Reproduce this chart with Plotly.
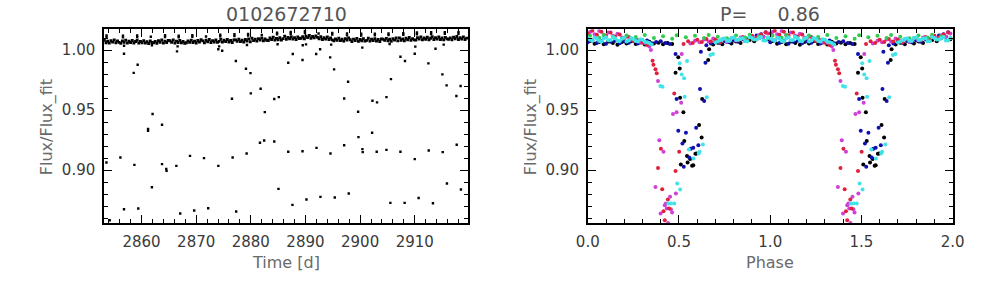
import plotly.graph_objects as go

# ---------------- Left panel: light curve ----------------
# out-of-eclipse band, sampled every band_step days from band_start
band_start = 2853.2
band_step = 0.3
band_flux = [
    1.0081, 1.0061, 1.0073, 1.0057, 1.0078, 1.0066, 1.0084, 1.0060, 1.0075, 1.0064,
    1.0055, 1.0076, 1.0064, 1.0082, 1.0058, 1.0073, 1.0062, 1.0079, 1.0059, 1.0071,
    1.0081, 1.0057, 1.0072, 1.0061, 1.0078, 1.0058, 1.0070, 1.0054, 1.0075, 1.0063,
    1.0060, 1.0072, 1.0056, 1.0077, 1.0065, 1.0083, 1.0059, 1.0074, 1.0063, 1.0080,
    1.0077, 1.0065, 1.0083, 1.0059, 1.0074, 1.0063, 1.0080, 1.0060, 1.0072, 1.0056,
    1.0061, 1.0076, 1.0065, 1.0082, 1.0062, 1.0074, 1.0058, 1.0079, 1.0067, 1.0085,
    1.0076, 1.0060, 1.0081, 1.0069, 1.0087, 1.0063, 1.0078, 1.0067, 1.0084, 1.0064,
    1.0072, 1.0090, 1.0066, 1.0081, 1.0070, 1.0087, 1.0067, 1.0079, 1.0063, 1.0084,
    1.0084, 1.0073, 1.0090, 1.0070, 1.0082, 1.0066, 1.0087, 1.0075, 1.0093, 1.0069,
    1.0098, 1.0078, 1.0090, 1.0074, 1.0095, 1.0083, 1.0101, 1.0077, 1.0092, 1.0081,
    1.0079, 1.0100, 1.0088, 1.0106, 1.0082, 1.0097, 1.0086, 1.0103, 1.0083, 1.0095,
    1.0114, 1.0090, 1.0105, 1.0094, 1.0111, 1.0091, 1.0103, 1.0087, 1.0108, 1.0096,
    1.0098, 1.0110, 1.0094, 1.0115, 1.0103, 1.0121, 1.0097, 1.0112, 1.0101, 1.0118,
    1.0105, 1.0093, 1.0111, 1.0087, 1.0102, 1.0091, 1.0108, 1.0088, 1.0100, 1.0084,
    1.0077, 1.0092, 1.0081, 1.0098, 1.0078, 1.0090, 1.0074, 1.0095, 1.0083, 1.0101,
    1.0086, 1.0070, 1.0091, 1.0079, 1.0097, 1.0073, 1.0088, 1.0077, 1.0094, 1.0074,
    1.0080, 1.0098, 1.0074, 1.0089, 1.0078, 1.0095, 1.0075, 1.0087, 1.0071, 1.0092,
    1.0091, 1.0080, 1.0097, 1.0077, 1.0089, 1.0073, 1.0094, 1.0082, 1.0100, 1.0076,
    1.0101, 1.0081, 1.0093, 1.0077, 1.0098, 1.0086, 1.0104, 1.0080, 1.0095, 1.0084,
    1.0082, 1.0103, 1.0091, 1.0109, 1.0085, 1.0100, 1.0089, 1.0106, 1.0086, 1.0098,
    1.0111, 1.0087, 1.0102, 1.0091, 1.0108, 1.0088, 1.0100, 1.0084, 1.0105, 1.0093,
    1.0089, 1.0101, 1.0085, 1.0106, 1.0094, 1.0112, 1.0088, 1.0103, 1.0092, 1.0109,
    1.0087, 1.0099,
]

spike_time = [2853.6, 2853.6, 2856.6, 2856.6, 2859.2, 2859.2, 2861.7, 2864.3, 2864.3,
              2866.8, 2866.8, 2869.3, 2869.3, 2871.8, 2874.4, 2874.4, 2877.0, 2877.0,
              2879.5, 2879.5, 2882.0, 2884.8, 2884.8, 2887.3, 2887.3, 2889.9, 2889.9,
              2892.4, 2894.9, 2894.9, 2897.6, 2897.6, 2900.2, 2900.2, 2902.7, 2902.7,
              2905.2, 2905.2, 2907.9, 2907.9, 2910.4, 2910.4, 2913.0, 2913.0, 2915.5,
              2915.5, 2918.0, 2918.0]
spike_flux = [1.0108, 1.0122, 1.0105, 1.0120, 1.0107, 1.0121, 1.0110, 1.0108, 1.0123,
              1.0106, 1.0119, 1.0110, 1.0124, 1.0113, 1.0114, 1.0128, 1.0116, 1.0131,
              1.0120, 1.0134, 1.0126, 1.0130, 1.0144, 1.0136, 1.0150, 1.0142, 1.0158,
              1.0138, 1.0128, 1.0142, 1.0122, 1.0137, 1.0120, 1.0135, 1.0122, 1.0136,
              1.0124, 1.0138, 1.0127, 1.0141, 1.0131, 1.0146, 1.0133, 1.0148, 1.0134,
              1.0149, 1.0135, 1.0150]

ecl_time = [2853.57, 2854.17, 2856.13, 2856.79, 2856.79, 2858.57, 2858.69, 2859.29, 2859.40,
            2861.19, 2861.19, 2861.90, 2862.02, 2863.75, 2863.75, 2864.52, 2864.58, 2866.37,
            2866.49, 2867.08, 2868.87, 2869.64, 2871.43, 2872.20, 2874.05, 2874.05, 2874.76,
            2876.55, 2876.67, 2877.26, 2877.32, 2879.11, 2879.23, 2879.94, 2880.00, 2881.79,
            2881.67, 2882.44, 2882.56, 2884.29, 2884.29, 2885.12, 2885.06, 2886.85, 2886.85,
            2887.62, 2887.68, 2889.46, 2889.46, 2890.18, 2891.96, 2892.02, 2892.74, 2892.68,
            2894.52, 2894.58, 2895.24, 2895.36, 2897.08, 2897.08, 2897.80, 2897.92, 2899.64,
            2899.70, 2900.42, 2900.48, 2902.20, 2902.26, 2903.10, 2903.04, 2904.82, 2904.82,
            2905.54, 2905.65, 2907.38, 2907.38, 2908.15, 2908.21, 2910.00, 2910.00, 2910.71,
            2912.50, 2912.56, 2913.33, 2915.06, 2915.12, 2915.83, 2915.89, 2917.62, 2917.68,
            2918.39, 2918.45,
            2856.8, 2861.9, 2866.6, 2874.2, 2879.3, 2884.9, 2889.5, 2890.1, 2894.7, 2900.4,
            2905.4, 2910.1, 2913.8, 2915.3]
ecl_flux = [0.9064, 0.8583, 0.9106, 0.8675, 0.9969, 0.9810, 0.9044, 0.9878, 0.8681,
            0.9344, 0.9328, 0.8858, 0.9467, 0.9378, 0.9050, 0.9011, 0.8994, 0.9036,
            0.9989, 0.8639, 0.9119, 0.8664, 0.9100, 0.8683, 0.9036, 1.0006, 0.9994,
            0.9594, 0.9106, 0.9908, 0.8656, 0.9844, 0.9139, 0.9808, 0.9639, 0.9678,
            0.9228, 0.9247, 0.9483, 0.9592, 0.9239, 0.9608, 0.8844, 0.9894, 0.9153,
            0.8711, 0.9967, 0.9917, 0.9158, 0.8756, 0.9967, 0.9186, 0.8778, 1.0006,
            0.9939, 0.9139, 0.9839, 0.8772, 0.9597, 0.9208, 0.9736, 0.8806, 0.9486,
            0.9275, 0.9175, 0.9150, 0.9311, 0.9578, 0.9564, 0.9153, 0.9608, 0.9169,
            0.8728, 0.9758, 0.9944, 0.9153, 0.8728, 0.9908, 0.9969, 0.9092, 0.8769,
            0.9889, 0.9164, 0.8725, 0.9797, 0.9150, 0.9706, 0.8889, 0.9617, 0.9211,
            0.9700, 0.8839,
            1.0035, 1.0040, 1.0030, 1.0030, 1.0042, 1.0048, 1.0040, 1.0047, 1.0045, 1.0020,
            1.0050, 1.0028, 1.0010, 1.0045]

# ---------------- Right panel: phase-folded ----------------
period_label = "0.86"
phase_a = [0.0125, 0.0375, 0.0625, 0.0875, 0.1125, 0.1375, 0.1625, 0.1875, 0.2125, 0.2375,
           0.2625, 0.2875, 0.3125, 0.3375, 0.3625, 0.3875, 0.4125, 0.4375, 0.4625, 0.4875,
           0.5125, 0.5375, 0.5625, 0.5875, 0.6125, 0.6375, 0.6625, 0.6875, 0.7125, 0.7375,
           0.7625, 0.7875, 0.8125, 0.8375, 0.8625, 0.8875, 0.9125, 0.9375, 0.9625, 0.9875]
phase_b = [0.000, 0.025, 0.050, 0.075, 0.100, 0.125, 0.150, 0.175, 0.200, 0.225,
           0.250, 0.275, 0.300, 0.325, 0.350, 0.375, 0.400, 0.425, 0.450, 0.475,
           0.500, 0.525, 0.550, 0.575, 0.600, 0.625, 0.650, 0.675, 0.700, 0.725,
           0.750, 0.775, 0.800, 0.825, 0.850, 0.875, 0.900, 0.925, 0.950, 0.975]
N = None
black_band = [1.0075, 1.0052, 1.0066, 1.0048, 1.0070, 1.0058, 1.0044, 1.0067, 1.0055, 1.0072,
              1.0050, 1.0063, 1.0046, 1.0069, 1.0054, 1.0061, 1.0047, 1.0058, 1.0050, N,
              N, N, N, N, N, N, N, 1.0045, 1.0060, 1.0049,
              1.0068, 1.0055, 1.0071, 1.0058, 1.0076, 1.0084, 1.0072, 1.0098, 1.0110, 1.0090]
blue_band = [1.0064, 1.0080, 1.0058, 1.0074, 1.0052, 1.0069, 1.0078, 1.0056, 1.0072, 1.0060,
             1.0076, 1.0054, 1.0068, 1.0079, 1.0057, 1.0066, 1.0073, 1.0058, 1.0050, N,
             N, N, N, N, N, N, 1.0040, 1.0055, 1.0070, 1.0058,
             1.0076, 1.0064, 1.0080, 1.0068, 1.0092, 1.0084, 1.0108, 1.0120, 1.0132, 1.0148]
magenta_band = [1.0150, 1.0132, 1.0158, 1.0125, 1.0145, 1.0118, 1.0136, 1.0105, 1.0112, 1.0085,
                1.0094, 1.0066, 1.0058, 1.0030, N, N, N, N, N, N,
                N, N, 1.0055, 1.0078, 1.0064, 1.0088, 1.0070, 1.0096, 1.0075, 1.0090,
                1.0068, 1.0098, 1.0080, 1.0104, 1.0088, 1.0112, 1.0096, 1.0122, 1.0110, 1.0138]
red_band = [1.0138, 1.0160, 1.0128, 1.0152, 1.0120, 1.0146, 1.0112, 1.0130, 1.0098, 1.0108,
            1.0076, 1.0082, 1.0060, 1.0042, N, N, N, N, N, N,
            N, 1.0050, 1.0072, 1.0058, 1.0085, 1.0066, 1.0092, 1.0070, 1.0088, 1.0062,
            1.0094, 1.0075, 1.0100, 1.0082, 1.0108, 1.0092, 1.0118, 1.0104, 1.0130, 1.0146]
green_band = [1.0118, N, 1.0102, 1.0125, N, 1.0110, N, 1.0096, 1.0120, N,
              1.0108, N, 1.0126, N, 1.0100, N, 1.0115, N, 1.0094, 1.0122,
              N, 1.0106, N, 1.0118, N, 1.0099, 1.0124, N, 1.0111, N,
              1.0097, N, 1.0120, N, 1.0105, 1.0127, N, 1.0113, N, 1.0101]
cyan_band_b = [1.0100, 1.0078, 1.0094, 1.0071, 1.0106, 1.0084, 1.0097, 1.0074, 1.0102, 1.0080,
               1.0092, 1.0070, 1.0086, 1.0065, 1.0045, N, N, N, N, N,
               N, N, N, N, N, N, N, N, 1.0062, 1.0082,
               1.0096, 1.0076, 1.0104, 1.0085, 1.0098, 1.0073, 1.0101, 1.0088, 1.0108, 1.0079]
cyan_band_a = [1.0086, 1.0104, 1.0075, 1.0096, 1.0082, 1.0108, 1.0078, 1.0093, 1.0070, 1.0099,
               1.0076, 1.0090, 1.0068, 1.0058, N, N, N, N, N, N,
               N, N, N, N, N, N, N, N, 1.0070, 1.0092,
               1.0077, 1.0101, 1.0083, 1.0095, 1.0072, 1.0106, 1.0087, 1.0098, 1.0080, 1.0103]

magenta_dip_phase = [0.346, 0.385, 0.515, 0.512, 0.467, 0.487, 0.392, 0.415, 0.371, 0.451,
                     0.483, 0.428, 0.422, 0.433, 0.456, 0.399, 0.462, 0.440]
magenta_dip_flux = [1.0000, 0.9742, 0.9967, 0.9561, 0.9467, 0.9483, 0.9250, 0.9153, 0.8861, 0.8778,
                    0.8806, 0.8722, 0.8708, 0.8681, 0.8675, 0.8639, 0.8647, 0.8561]
red_dip_phase = [0.355, 0.360, 0.371, 0.378, 0.474, 0.501, 0.481, 0.401, 0.385, 0.408,
                 0.439, 0.446, 0.415, 0.422]
red_dip_flux = [0.9911, 0.9878, 0.9839, 0.9806, 0.9639, 0.9153, 0.8994, 0.9178, 0.9019, 0.8842,
                0.8756, 0.8681, 0.8658, 0.8583]
cyan_dip_phase = [0.398, 0.410, 0.504, 0.515, 0.528, 0.544, 0.531, 0.672, 0.686, 0.652,
                  0.631, 0.554, 0.608, 0.613, 0.579, 0.490, 0.506, 0.442, 0.456, 0.474]
cyan_dip_flux = [0.9700, 0.9694, 0.9889, 0.9797, 0.9764, 0.9908, 0.9611, 0.9958, 0.9967, 0.9606,
                 0.9214, 0.9172, 0.9139, 0.9153, 0.9097, 0.8889, 0.8839, 0.8722, 0.8722, 0.8722]
black_dip_phase = [0.496, 0.504, 0.481, 0.506, 0.524, 0.627, 0.660, 0.665, 0.529, 0.610,
                   0.624, 0.544, 0.561, 0.590, 0.597, 0.547, 0.572, 0.578, 0.510]
black_dip_flux = [0.9939, 0.9847, 0.9811, 0.9603, 0.9483, 0.9592, 0.9917, 1.0006, 0.9242, 0.9375,
                  0.9272, 0.9117, 0.9094, 0.9136, 0.9139, 0.9064, 0.9036, 0.9042, 0.9047]
blue_dip_phase = [0.481, 0.487, 0.615, 0.638, 0.620, 0.645, 0.496, 0.538, 0.519, 0.594,
                  0.606, 0.565, 0.578, 0.556, 0.526]
blue_dip_flux = [0.9967, 0.9592, 0.9675, 0.9575, 0.9986, 0.9894, 0.9328, 0.9311, 0.9222, 0.9353,
                 0.9208, 0.9178, 0.9186, 0.9106, 0.9028]

# ---------------- Figure ----------------
fig = go.Figure()

left_t = [band_start + band_step * i for i in range(len(band_flux))]
left_style = dict(mode="markers", showlegend=False, hoverinfo="skip", xaxis="x", yaxis="y")
fig.add_trace(go.Scatter(x=left_t, y=band_flux,
                         marker=dict(symbol="square", size=2.9, color="black"), **left_style))
fig.add_trace(go.Scatter(x=spike_time, y=spike_flux,
                         marker=dict(symbol="square", size=2.4, color="black"), **left_style))
fig.add_trace(go.Scatter(x=ecl_time, y=ecl_flux,
                         marker=dict(symbol="square", size=2.4, color="black"), **left_style))


def two_cycles(ph, fl):
    xs, ys = [], []
    for k in (0, 1):
        for p, f in zip(ph, fl):
            if f is None:
                continue
            xs.append(p + k)
            ys.append(f)
    return xs, ys


groups = [
    ("#000000", [(phase_a, black_band), (black_dip_phase, black_dip_flux)]),
    ("#1010b0", [(phase_b, blue_band), (blue_dip_phase, blue_dip_flux)]),
    ("#d040d8", [(phase_a, magenta_band), (magenta_dip_phase, magenta_dip_flux)]),
    ("#e0203c", [(phase_b, red_band), (red_dip_phase, red_dip_flux)]),
    ("#30cc50", [(phase_a, green_band)]),
    ("#40e4e8", [(phase_b, cyan_band_b), (phase_a, cyan_band_a), (cyan_dip_phase, cyan_dip_flux)]),
]
for color, parts in groups:
    xs, ys = [], []
    for ph, fl in parts:
        a, b = two_cycles(ph, fl)
        xs += a
        ys += b
    fig.add_trace(go.Scatter(x=xs, y=ys, mode="markers",
                             marker=dict(size=4.0, color=color, line=dict(width=0)),
                             showlegend=False, hoverinfo="skip", xaxis="x2", yaxis="y2"))

FONT = "DejaVu Sans"
tickfont = dict(family=FONT, size=15, color="#3a3a3a")
common = dict(showline=True, linecolor="black", linewidth=1.6, mirror="allticks",
              ticks="inside", ticklen=8, tickwidth=1, tickcolor="black",
              showgrid=False, zeroline=False, tickfont=tickfont, ticklabelstandoff=4)

yrange = [0.8558, 1.01725]
ydom = [0.2110, 0.8965]
fig.update_layout(
    width=992, height=283, margin=dict(l=0, r=0, t=0, b=0),
    paper_bgcolor="white", plot_bgcolor="white",
    xaxis=dict(domain=[0.0951, 0.4711], range=[2853.14, 2919.75], tick0=2860, dtick=10,
               minor=dict(ticks="inside", ticklen=4, dtick=2, tick0=2860, tickcolor="black"),
               anchor="y", **common),
    yaxis=dict(domain=ydom, range=yrange, tick0=0.9, dtick=0.05, tickformat=".2f",
               minor=dict(ticks="inside", ticklen=4, dtick=0.01, tick0=0.9, tickcolor="black"),
               anchor="x", **common),
    xaxis2=dict(domain=[0.5948, 0.9718], range=[0, 2], tick0=0, dtick=0.5, tickformat=".1f",
                minor=dict(ticks="inside", ticklen=4, dtick=0.1, tick0=0, tickcolor="black"),
                anchor="y2", **common),
    yaxis2=dict(domain=ydom, range=yrange, tick0=0.9, dtick=0.05, tickformat=".2f",
                minor=dict(ticks="inside", ticklen=4, dtick=0.01, tick0=0.9, tickcolor="black"),
                anchor="x2", **common),
)

title_font = dict(family=FONT, size=19, color="#555555")
label_font = dict(family=FONT, size=16, color="#6a6a6a")
ann = [
    dict(text="0102672710", x=0.2831, y=0.9505, font=title_font),
    dict(text="P=\u00a0\u00a0\u00a0\u00a0\u00a0" + period_label, x=0.7833, y=0.9505, font=title_font),
    dict(text="Time [d]", x=0.2831, y=0.072, font=label_font),
    dict(text="Phase", x=0.7833, y=0.072, font=label_font),
    dict(text="Flux/Flux_fit", x=0.0363, y=0.551, font=label_font, textangle=-90),
    dict(text="Flux/Flux_fit", x=0.5363, y=0.551, font=label_font, textangle=-90),
]
for a in ann:
    fig.add_annotation(xref="paper", yref="paper", showarrow=False,
                       xanchor="center", yanchor="middle", **a)

fig.write_html("out.html")
